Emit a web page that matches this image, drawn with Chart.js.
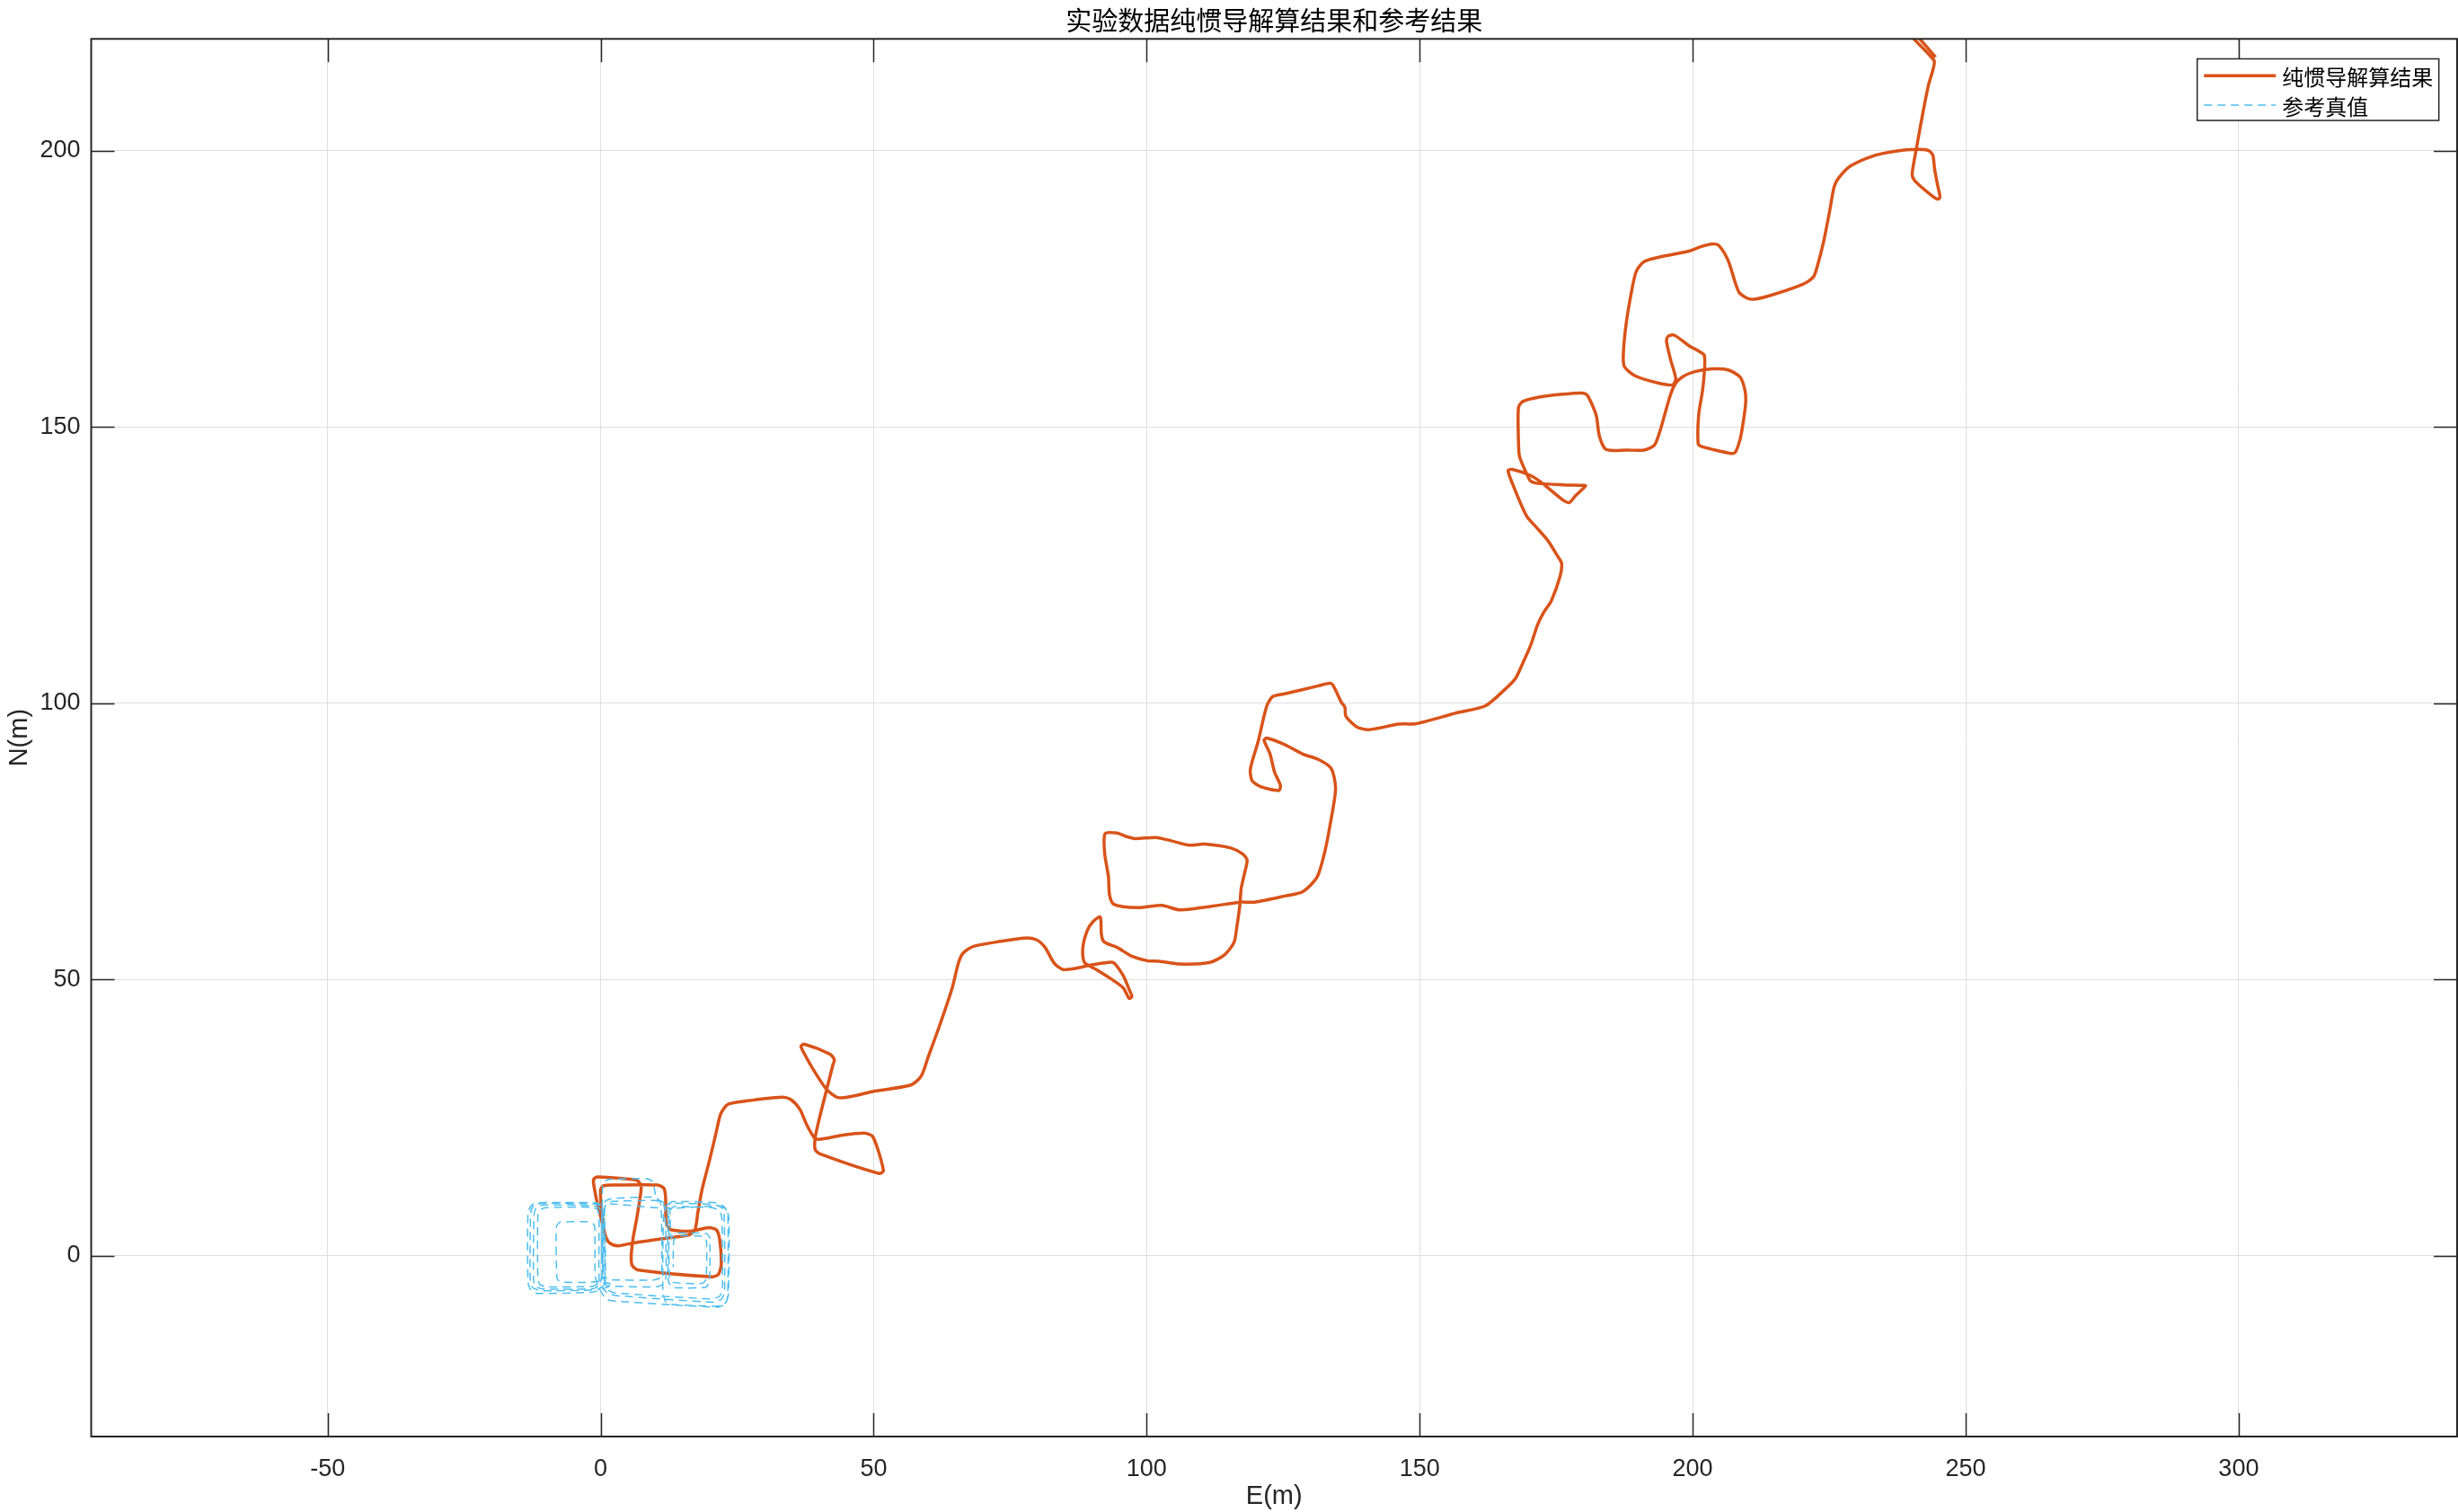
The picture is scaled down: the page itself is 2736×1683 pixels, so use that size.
<!DOCTYPE html>
<html>
<head>
<meta charset="utf-8">
<script src="https://cdn.jsdelivr.net/npm/chart.js@4.4.1/dist/chart.umd.min.js"></script>
<style>
html,body{margin:0;padding:0;background:#ffffff;overflow:hidden;}
#wrap{width:2736px;height:1683px;position:relative;}
canvas{display:block;}
</style>
</head>
<body>
<div id="wrap"><canvas id="c" width="2736" height="1683"></canvas></div>
<script>
// ---------------- data ----------------
const chartTitle = '实验数据纯惯导解算结果和参考结果';
const seriesNames = ['纯惯导解算结果', '参考真值'];
const xAxisTitle = 'E(m)';
const yAxisTitle = 'N(m)';
const xTicks = [-50, 0, 50, 100, 150, 200, 250, 300];
const yTicks = [0, 50, 100, 150, 200];
const xRange = [-93.3, 340.0];
const yRange = [-32.7, 220.2];

// pure INS solution (E, N) in metres
const insPath = [
  [1.0,2.8],[0.5,5.5],[0.1,9.0],[0.0,12.0],[0.6,12.7],[3.0,12.8],[10.4,12.8],[11.6,12.2],[11.9,10.5],[12.0,6.1],
  [12.7,4.8],[14.5,4.5],[16.7,4.5],[19.8,5.1],[21.2,4.7],[21.8,3.0],[22.1,-1.5],[21.6,-3.3],[20.5,-3.8],[7.0,-2.6],
  [5.8,-1.8],[5.6,0.0],[6.0,3.5],[6.6,6.7],[7.3,11.0],[7.4,12.7],[6.6,13.7],[5.0,13.9],[-0.6,14.3],[-1.3,13.8],
  [-1.2,12.5],[-0.6,9.5],[0.3,6.0],[1.0,3.3],[1.8,2.2],[3.2,1.8],[5.8,2.3],[11.2,3.1],[16.2,3.8],[17.3,4.8],
  [17.8,7.8],[18.6,12.1],[20.0,17.5],[21.2,22.5],[22.0,25.7],[23.3,27.4],[26.6,28.0],[33.2,28.7],[34.8,28.3],[36.5,26.5],
  [37.8,23.6],[39.2,21.3],[40.3,21.1],[44.1,21.8],[48.3,22.2],[49.9,21.5],[51.8,15.4],[51.0,14.9],[40.3,18.4],[39.3,19.2],
  [39.3,21.4],[40.0,24.6],[41.4,30.1],[42.5,34.4],[42.8,35.5],[42.0,36.5],[37.3,38.3],[36.7,37.9],[37.3,36.6],[39.2,33.3],
  [41.4,30.1],[43.3,28.7],[45.2,28.7],[50.2,29.8],[56.8,30.9],[58.7,32.5],[60.0,36.0],[62.2,42.0],[64.4,48.5],[65.5,52.9],
  [66.4,54.8],[68.3,56.0],[73.2,56.9],[77.6,57.5],[79.8,57.2],[81.4,55.8],[83.1,52.9],[84.7,51.8],[86.9,52.0],[89.7,52.6],
  [93.0,53.1],[94.0,53.0],[95.7,50.7],[96.8,48.2],[97.3,46.9],[96.8,46.6],[95.7,48.5],[93.5,50.1],[90.8,51.8],[88.6,53.1],
  [88.3,55.6],[89.1,58.8],[90.2,60.5],[91.5,61.3],[91.7,58.3],[92.1,56.9],[93.0,56.4],[94.6,55.8],[97.3,54.2],[100.1,53.4],
  [102.3,53.3],[106.1,52.8],[111.6,53.1],[114.3,54.5],[116.0,56.7],[116.5,59.4],[117.1,63.7],[117.3,66.4],[117.9,69.1],[118.4,71.6],
  [117.6,72.7],[115.4,73.8],[110.5,74.5],[107.8,74.3],[104.5,75.1],[101.7,75.7],[97.9,75.5],[96.2,75.9],[94.6,76.5],[92.4,76.4],
  [92.3,72.9],[93.0,68.6],[93.2,65.3],[94.0,63.6],[98.4,63.0],[102.8,63.4],[106.1,62.6],[114.3,63.6],[117.1,64.0],[119.8,64.0],
  [125.3,65.1],[128.6,65.9],[131.2,68.5],[132.6,73.0],[133.6,78.0],[134.6,84.5],[133.8,88.2],[131.5,89.8],[128.6,90.8],[125.3,92.5],
  [122.0,93.7],[121.5,93.3],[122.6,90.8],[123.4,87.6],[124.5,85.1],[124.2,84.2],[120.9,84.9],[119.3,86.0],[119.0,88.1],[120.4,93.0],
  [122.0,99.5],[123.1,101.2],[125.3,101.7],[131.3,103.1],[133.5,103.6],[134.1,103.3],[135.7,100.1],[136.3,99.3],[136.5,97.6],[138.5,95.7],
  [140.7,95.2],[146.1,96.2],[149.4,96.3],[156.6,98.2],[162.0,99.5],[165.3,102.2],[167.5,104.4],[168.6,106.6],[170.3,110.4],[171.6,114.2],
  [172.7,116.4],[174.1,118.5],[175.7,122.9],[176.0,125.3],[175.2,126.7],[173.5,129.4],[171.4,131.8],[169.7,133.7],[168.6,135.9],[167.0,139.7],
  [166.2,142.1],[167.0,142.3],[170.3,141.2],[172.2,140.0],[176.3,136.7],[177.4,136.3],[178.5,137.5],[180.4,139.3],[180.1,139.4],[176.3,139.5],
  [171.4,139.8],[170.3,140.2],[169.7,141.3],[168.3,144.6],[168.1,147.3],[168.1,153.5],[168.9,154.6],[171.9,155.4],[176.3,155.9],[179.6,156.1],
  [180.7,155.7],[182.3,152.2],[182.9,148.4],[184.0,146.0],[185.6,145.7],[187.8,145.8],[191.1,145.8],[193.0,146.7],[194.1,149.5],[194.7,151.6],
  [196.0,156.0],[196.9,157.9],[198.2,159.1],[200.4,160.0],[203.7,160.5],[206.5,160.3],[208.7,159.0],[209.6,156.5],[209.7,154.3],[209.3,151.1],
  [208.7,147.8],[207.8,145.4],[207.0,145.2],[203.7,145.9],[201.5,146.5],[201.0,147.0],[201.1,152.2],[201.8,156.5],[202.2,160.9],[202.1,163.0],
  [201.3,163.6],[199.3,164.7],[196.6,166.6],[195.5,166.4],[195.2,165.5],[196.0,162.0],[196.9,158.7],[196.3,157.6],[193.8,157.9],[189.5,159.2],
  [187.5,160.9],[187.3,163.0],[187.8,168.5],[188.9,175.0],[189.7,178.2],[191.1,179.9],[193.8,180.7],[199.3,181.8],[201.5,182.6],[203.7,183.1],
  [204.8,182.8],[206.5,180.1],[207.8,176.1],[208.6,174.2],[210.6,173.1],[213.6,173.6],[220.2,175.8],[222.1,177.1],[222.9,179.3],[224.0,183.6],
  [225.1,189.1],[225.9,193.4],[226.7,195.0],[228.9,197.2],[233.3,199.1],[237.2,199.9],[241.0,200.2],[243.2,200.0],[244.0,199.1],[244.3,196.7],
  [244.8,194.0],[245.3,191.5],[244.8,191.2],[243.2,192.3],[240.7,194.5],[240.2,195.6],[240.5,197.8],[241.0,200.5],[242.1,206.5],[243.2,211.9],
  [244.0,214.6],[244.2,216.3],[239.6,221.2],[240.4,221.4],[244.5,216.9]
];

// reference trajectory (E, N) in metres
const refPath = [
  [0.2,0.0],[0.3,8.8],[1.0,10.0],[2.4,10.4],[9.7,10.6],[10.8,10.0],[11.1,8.7],[11.2,-3.0],[10.7,-4.1],[9.5,-4.4],
  [1.6,-4.3],[0.6,-3.8],[-0.2,-4.8],[-1.4,-5.5],[-10.0,-5.6],[-11.1,-5.2],[-11.5,-4.2],[-11.5,7.2],[-11.1,8.3],[-10.0,8.7],
  [-1.8,8.8],[-0.6,8.4],[-0.3,7.3],[-0.3,-4.0],[0.2,-5.6],[1.4,-6.8],[3.0,-7.2],[20.8,-8.4],[22.2,-7.8],[22.7,-6.4],
  [22.6,7.6],[22.0,8.9],[20.6,9.3],[12.8,9.5],[11.8,8.9],[11.5,7.6],[11.4,-6.5],[11.9,-8.3],[13.0,-8.8],[21.6,-9.1],
  [23.0,-8.4],[23.3,-6.8],[23.3,7.4],[22.7,8.8],[21.2,9.6],[13.2,9.8],[12.4,9.1],[12.3,7.8],[12.4,-4.5],[13.0,-5.6],
  [14.2,-5.8],[19.2,-5.7],[19.9,-4.8],[20.0,3.2],[19.4,4.0],[13.8,4.1],[12.9,3.2],[12.6,8.5],[11.3,9.8],[10.3,10.2],
  [9.9,11.8],[9.6,13.3],[8.7,13.9],[1.4,13.8],[0.5,13.1],[0.3,11.5],[0.4,-3.5],[0.9,-4.8],[2.2,-5.2],[-0.5,-6.3],
  [-1.8,-6.6],[-11.6,-6.8],[-12.8,-6.2],[-13.3,-4.8],[-13.3,7.8],[-12.7,9.1],[-11.4,9.6],[-1.0,9.6],[0.3,9.1],[0.7,7.8],
  [0.8,-5.0],[-0.5,-4.6],[-1.9,-4.8],[-7.4,-4.7],[-8.0,-4.0],[-8.1,5.3],[-7.4,6.1],[-1.8,6.1],[-1.1,5.4],[-1.0,-3.6],
  [-0.3,-5.8],[1.0,-7.8],[2.8,-8.2],[21.4,-9.3],[22.8,-8.7],[23.4,-7.0],[23.5,6.8],[23.0,8.4],[21.5,9.0],[12.0,8.6],
  [1.8,9.4],[0.8,9.0],[0.6,7.0],[0.5,0.5],[0.0,-4.9],[-1.2,-5.9],[-10.5,-6.0],[-12.0,-5.5],[-12.3,-4.0],[-12.2,7.5],
  [-11.7,8.9],[-10.4,9.2],[-1.5,9.1],[-0.2,8.6],[0.2,7.2],[0.3,-4.6],[1.2,-5.4],[10.3,-5.6],[11.7,-4.9],[12.0,-3.5],
  [11.8,8.5],[11.2,9.6],[9.8,10.0],[1.8,9.8],[0.9,9.2],[0.7,7.5],[0.8,-2.0],[0.7,-5.2],[-0.4,-6.0],[-1.6,-6.2],
  [-11.0,-6.3],[-12.4,-5.8],[-12.9,-4.5],[-12.8,7.9],[-12.2,9.2],[-10.8,9.5],[-1.2,9.4],[0.1,8.9],[0.4,7.6],[0.6,-4.0],
  [1.4,-6.2],[2.6,-6.7],[20.2,-7.8],[21.8,-7.3],[22.3,-5.9],[22.2,6.9],[21.7,8.2],[20.3,8.7],[13.5,8.9],[12.7,8.3],
  [12.5,7.0],[12.6,-3.8],[13.3,-4.8],[18.6,-5.0],[19.3,-4.2],[19.4,2.6],[18.8,3.5],[14.2,3.6],[13.4,2.8],[13.3,-2.0]
];

// ---------------- styles ----------------
const INK = '#262626';
const RED = '#D95319';
const BLUE = '#4DBEEE';
const GRID = '#dfdfdf';
const NUM_FONT = 'Liberation Sans, Arial, Helvetica, sans-serif';
const CJK_FONT = '"Noto Sans CJK SC", "Noto Sans", sans-serif';

const toXY = arr => arr.map(p => ({x: p[0], y: p[1]}));

const framePlugin = {
  id: 'frame',
  afterDraw(chart) {
    const {ctx, chartArea: a, scales: {x, y}} = chart;
    ctx.save();
    // inward tick marks on all four sides
    const L = 26;
    ctx.strokeStyle = INK;
    ctx.lineWidth = 1.5;
    ctx.beginPath();
    xTicks.forEach(v => {
      const px = Math.round(x.getPixelForValue(v)) + 0.5;
      ctx.moveTo(px, a.bottom); ctx.lineTo(px, a.bottom - L);
      ctx.moveTo(px, a.top); ctx.lineTo(px, a.top + L);
    });
    yTicks.forEach(v => {
      const py = Math.round(y.getPixelForValue(v)) + 0.5;
      ctx.moveTo(a.left, py); ctx.lineTo(a.left + L, py);
      ctx.moveTo(a.right, py); ctx.lineTo(a.right - L, py);
    });
    ctx.stroke();
    // box
    ctx.lineWidth = 2;
    ctx.strokeRect(a.left, a.top, a.right - a.left, a.bottom - a.top);

    // legend
    const lw = 269, lh = 68.6;
    const lx = a.right - 20.3 - lw, ly = a.top + 22.2;
    ctx.fillStyle = '#ffffff';
    ctx.fillRect(lx, ly, lw, lh);
    ctx.lineWidth = 1.5;
    ctx.strokeStyle = INK;
    ctx.strokeRect(lx, ly, lw, lh);
    const rows = [
      {name: seriesNames[0], color: RED, width: 3.5, dash: [], y: ly + 18.8},
      {name: seriesNames[1], color: BLUE, width: 1.5, dash: [9, 6], y: ly + 51.5}
    ];
    rows.forEach(r => {
      ctx.beginPath();
      ctx.setLineDash(r.dash);
      ctx.strokeStyle = r.color;
      ctx.lineWidth = r.width;
      ctx.moveTo(lx + 7.5, r.y); ctx.lineTo(lx + 87.5, r.y);
      ctx.stroke();
      ctx.setLineDash([]);
      ctx.fillStyle = '#000000';
      ctx.font = '24px ' + CJK_FONT;
      ctx.textAlign = 'left';
      ctx.textBaseline = 'middle';
      ctx.fillText(r.name, lx + 94.5, r.y + 1.5);
    });
    ctx.restore();
  }
};

const ctx = document.getElementById('c').getContext('2d');
new Chart(ctx, {
  type: 'scatter',
  data: {
    datasets: [
      {
        label: seriesNames[1],
        data: toXY(refPath),
        showLine: true,
        borderColor: BLUE,
        borderWidth: 1.5,
        borderDash: [9, 6],
        pointRadius: 0,
        pointHoverRadius: 0,
        tension: 0.2,
        fill: false,
        order: 1
      },
      {
        label: seriesNames[0],
        data: toXY(insPath),
        showLine: true,
        borderColor: RED,
        borderWidth: 3.5,
        pointRadius: 0,
        pointHoverRadius: 0,
        tension: 0.25,
        fill: false,
        order: 2
      }
    ]
  },
  options: {
    responsive: false,
    animation: false,
    devicePixelRatio: 1,
    layout: {padding: {left: 0, right: 1, top: 0, bottom: 0}},
    events: [],
    plugins: {
      legend: {display: false},
      tooltip: {enabled: false},
      title: {
        display: true,
        text: chartTitle,
        fullSize: false,
        color: '#000000',
        font: {family: CJK_FONT, size: 29, weight: 'normal', lineHeight: 1.2},
        padding: {top: 5.5, bottom: 3}
      }
    },
    scales: {
      x: {
        type: 'linear',
        position: 'bottom',
        min: xRange[0],
        max: xRange[1],
        afterBuildTicks: s => { s.ticks = xTicks.map(v => ({value: v})); },
        afterFit: s => { s.height = 84; },
        grid: {color: GRID, lineWidth: 1, drawTicks: false},
        border: {display: false},
        ticks: {
          color: INK, padding: 20, maxRotation: 0, autoSkip: false,
          font: {family: NUM_FONT, size: 27}
        },
        title: {
          display: true, text: xAxisTitle, color: INK,
          font: {family: NUM_FONT, size: 29, lineHeight: 1.2},
          padding: {top: 0, bottom: 0}
        }
      },
      y: {
        type: 'linear',
        position: 'left',
        min: yRange[0],
        max: yRange[1],
        afterBuildTicks: s => { s.ticks = yTicks.map(v => ({value: v})); },
        afterFit: s => { s.width = 101.5; },
        grid: {color: GRID, lineWidth: 1, drawTicks: false},
        border: {display: false},
        ticks: {
          color: INK, padding: 12, autoSkip: false,
          font: {family: NUM_FONT, size: 27}
        },
        title: {
          display: true, text: yAxisTitle, color: INK,
          font: {family: NUM_FONT, size: 29, lineHeight: 1.2},
          padding: {top: 5, bottom: 0}
        }
      }
    }
  },
  plugins: [framePlugin]
});
</script>
</body>
</html>
